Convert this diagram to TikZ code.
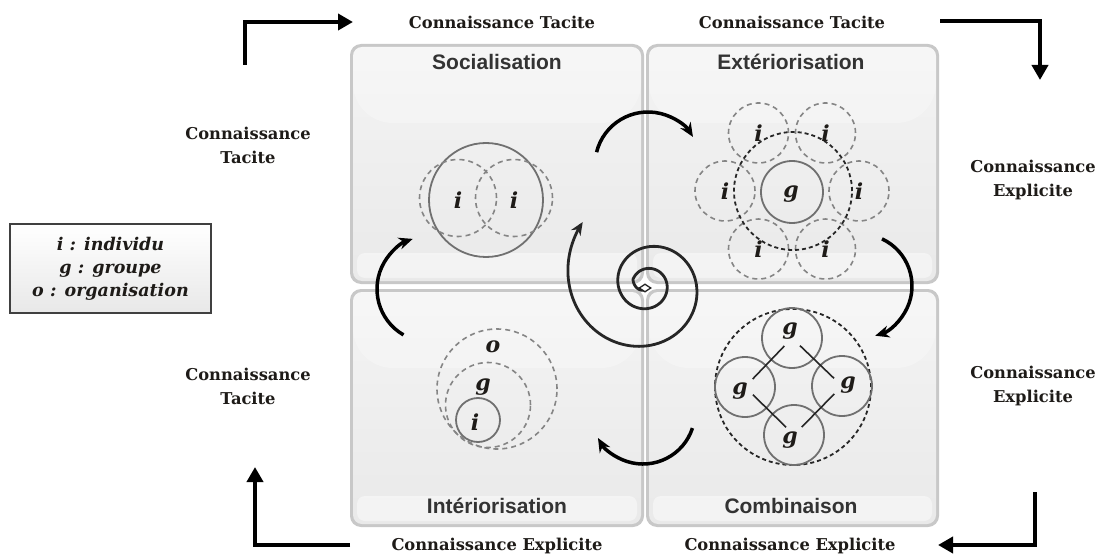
\documentclass[tikz,border=0pt]{standalone}
\usepackage{fontspec}
\setmainfont{DejaVu Serif}
\newfontfamily\titlefont{Liberation Sans}
\usetikzlibrary{arrows.meta,shapes.geometric}
\definecolor{txt}{HTML}{1E1B18}
\definecolor{ttl}{HTML}{333333}
\definecolor{pborder}{HTML}{C8C8C8}
\definecolor{dashgray}{HTML}{858585}
\definecolor{solidgray}{HTML}{707070}
\newcommand\mypanel[4]{%
  \fill[pborder, rounded corners=11] (#1-1,-#2+1) rectangle (#3+1,-#4-1);
  \shade[rounded corners=9, top color=gray!9, bottom color=gray!17] (#1+2,-#2-2) rectangle (#3-2,-#4+2);
  \begin{scope}
    \clip[rounded corners=9] (#1+2,-#2-2) rectangle (#3-2,-#4+2);
    \fill[white, opacity=0.28, rounded corners=40] (#1+2,-#2+50) rectangle (#3-2,-#2-78);
  \end{scope}
  \fill[white, opacity=0.45, rounded corners=8] (#1+6,-#4+30) rectangle (#3-6,-#4+5);
}
\tikzset{
  declare function={spr(\d)=(\d<0 ? 16+0.13*\d : 16+1.2*(\d/100)^2 + (\d>600 ? 4*((\d-600)/100)^2 : 0));},
  bigarrow/.style={line width=4.5pt, -{Triangle[length=15pt,width=16pt]}},
  cycarrow/.style={line width=3.5pt, -{Stealth[length=14pt,width=12pt]}},
  know/.style={font=\bfseries\fontsize{16.3}{24}\selectfont, text=txt, align=center, inner sep=0},
  ptitle/.style={font=\titlefont\bfseries\fontsize{21}{24}\selectfont, text=ttl, inner sep=0},
  lbl/.style={font=\bfseries\itshape\fontsize{22}{24}\selectfont, text=txt, inner sep=0},
  dashc/.style={circle, draw=dashgray, line width=1.6pt, dash pattern=on 5pt off 4pt, inner sep=0},
  dashk/.style={circle, draw=black!85, line width=1.8pt, dash pattern=on 4pt off 3pt, inner sep=0},
  solidc/.style={circle, draw=solidgray, line width=1.8pt, inner sep=0},
  link/.style={line width=1.6pt, black!85, shorten <=11pt, shorten >=11pt},
  legendbox/.style={draw=black!75, line width=1.6pt, top color=white, bottom color=gray!18,
    minimum width=201pt, minimum height=89pt, align=center,
    font=\bfseries\itshape\fontsize{17.5}{23}\selectfont, text=txt}
}
\begin{document}
\begin{tikzpicture}[x=1pt,y=1pt]
\useasboundingbox (0,0) rectangle (1101,-559);
\fill[white] (0,0) rectangle (1101,-559);

% panels
\mypanel{351}{45}{643}{283}
\mypanel{647}{45}{938}{283}
\mypanel{351}{290}{643}{526}
\mypanel{647}{290}{938}{526}

\node[ptitle] (tsoc) at (497,-62) {Socialisation};
\node[ptitle] (text) at (791,-62) {Extériorisation};
\node[ptitle] (tint) at (497,-506) {Intériorisation};
\node[ptitle] (tcom) at (791,-506) {Combinaison};

% Socialisation
\node[solidc, minimum size=114pt] (s0) at (486,-200) {};
\node[dashc, minimum size=77pt] (s1) at (458,-198) {};
\node[dashc, minimum size=77pt] (s2) at (514,-198) {};
\node[lbl] (si1) at (458,-200) {i};
\node[lbl] (si2) at (514,-200) {i};

% Exteriorisation
\foreach \a/\n in {0/1,60/2,120/3,180/4,240/5,300/6}{
  \node[dashc, minimum size=60pt] (e\n) at ([shift={(\a:67)}]792,-191) {};
}
\node[dashk, minimum size=118pt] (e0) at (793,-191) {};
\node[solidc, minimum size=62pt] (eg) at (792,-192) {};
\node[lbl] (egl) at (791,-194) {g};
\foreach \n in {1,...,6}{ \node[lbl] (ei\n) at (e\n) {i}; }

% Interiorisation
\node[dashc, minimum size=120pt] (io) at (497,-389) {};
\node[dashc, minimum size=85pt] (ig) at (488,-405) {};
\node[solidc, minimum size=44pt] (ii) at (478,-420) {};
\node[lbl] (iol) at (493,-347) {o};
\node[lbl] (igl) at (483,-387) {g};
\node[lbl] (iil) at (475,-422) {i};

% Combinaison
\node[dashk, minimum size=156pt] (c0) at (793,-387) {};
\node[solidc, minimum size=60pt] (cg1) at (792,-338) {};
\node[solidc, minimum size=60pt] (cg2) at (745,-387) {};
\node[solidc, minimum size=60pt] (cg3) at (842,-386) {};
\node[solidc, minimum size=60pt] (cg4) at (794,-435) {};
\node[lbl] (cl1) at (790,-331) {g};
\node[lbl] (cl2) at (740,-391) {g};
\node[lbl] (cl3) at (848,-385) {g};
\node[lbl] (cl4) at (790,-440) {g};
\draw[link] (cg1.center) -- (cg2.center);
\draw[link] (cg1.center) -- (cg3.center);
\draw[link] (cg2.center) -- (cg4.center);
\draw[link] (cg3.center) -- (cg4.center);

% cycle arrows
\draw[cycarrow] (430,-289) ++(240:53) arc[start angle=240, end angle=109, radius=53];
\draw[cycarrow] (648,-165) ++(166:53) arc[start angle=166, end angle=32, radius=53];
\draw[cycarrow] (860,-286) ++(65:52) arc[start angle=65, end angle=-73, radius=52];
\draw[cycarrow] (643,-412) ++(-18:52) arc[start angle=-18, end angle=-150, radius=52];

% spiral
\draw[line width=2.8pt, black!85, -{Stealth[length=13pt,width=11pt]}]
  plot[domain=-90:744, samples=220, smooth, variable=\d]
  ({648 + spr(\d)*cos(160-\d)}, {-285 + spr(\d)*sin(160-\d)});
\node[diamond, draw=black!85, fill=white, line width=1.3pt, minimum width=12pt, minimum height=8pt, inner sep=0] (dm) at (645,-288) {};

% outer arrows
\coordinate (a1s) at (245,-65);  \coordinate (a1e) at (353,-22);
\coordinate (a2s) at (940,-21);  \coordinate (a2e) at (1040,-80);
\coordinate (a3s) at (1035,-492); \coordinate (a3e) at (938,-545);
\coordinate (a4s) at (350,-545); \coordinate (a4e) at (255,-467);
\draw[bigarrow] (a1s) |- (a1e);
\draw[bigarrow] (a2s) -| (a2e);
\draw[bigarrow] (a3s) |- (a3e);
\draw[bigarrow] (a4s) -| (a4e);

% knowledge labels
\node[know] (k1) at (502,-22) {Connaissance Tacite};
\node[know] (k2) at (792,-22) {Connaissance Tacite};
\node[know] (k3) at (497,-546) {Connaissance Explicite};
\node[know] (k4) at (790,-546) {Connaissance Explicite};
\node[know] (k5) at (248,-145) {Connaissance\\Tacite};
\node[know] (k6) at (248,-386) {Connaissance\\Tacite};
\node[know] (k7) at (1033,-180) {Connaissance\\Explicite};
\node[know] (k8) at (1033,-386) {Connaissance\\Explicite};

% legend
\node[legendbox] (leg) at (110.5,-268.5) {i : individu\\g : groupe\\o : organisation};
\end{tikzpicture}
\end{document}
